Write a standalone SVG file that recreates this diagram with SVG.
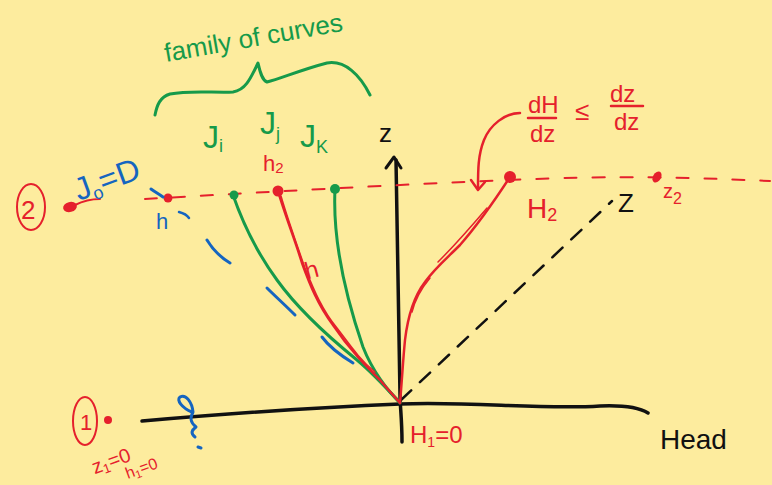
<svg xmlns="http://www.w3.org/2000/svg" width="772" height="485" viewBox="0 0 772 485">
<style>
.s{fill:none;stroke-linecap:round;stroke-linejoin:round}
.r{stroke:#E5202C}
.g{stroke:#169A4A}
.b{stroke:#1565C0}
.k{stroke:#111}
.t{font-family:"Liberation Sans","DejaVu Sans",sans-serif}
.tr{fill:#E5202C}
.tg{fill:#169A4A}
.tb{fill:#1565C0}
.tk{fill:#111}
</style>
<rect width="772" height="485" fill="#FDEC9E"/>
<g id="axes">
<path class="s k" stroke-width="3.5" d="M142,421 C200,416 300,408 400,404 C470,401 540,410 600,406 C625,405 640,408 648,413"/>
<path class="s k" stroke-width="3.5" d="M402,442 C402,420 400,405 400,395 C399,340 398,250 396,160"/>
<path class="s k" stroke-width="3" d="M386,168 L394,157 L401,168"/>
<text class="t tk" x="379" y="142" font-size="26">z</text>
<text class="t tk" x="660" y="449" font-size="28">Head</text>
<path class="s k" stroke-width="2.5" stroke-dasharray="14,12" d="M401,400 L612,201"/>
<text class="t tk" x="618" y="212" font-size="26">Z</text>
</g>
<g id="level2">
<path class="s r" stroke-width="2" stroke-dasharray="12,16" d="M145,199 C250,193 400,184 560,178 C650,176 700,178 770,181"/>
<ellipse class="s r" stroke-width="2" cx="31" cy="207" rx="14" ry="23"/>
<text class="t tr" x="21" y="219" font-size="26">2</text>
<ellipse cx="70" cy="207" rx="7" ry="5" fill="#E5202C" transform="rotate(-15 70 207)"/>
<path class="s r" stroke-width="2" d="M75,205 C85,200 92,199 100,199"/>
<circle cx="168" cy="198" r="4.5" fill="#E5202C"/>
<circle cx="278" cy="191" r="5.5" fill="#E5202C"/>
<circle cx="510" cy="177" r="6" fill="#E5202C"/>
<ellipse cx="657" cy="177" rx="4" ry="6" fill="#E5202C" transform="rotate(30 657 177)"/>
<text class="t tr" x="527" y="218" font-size="28">H<tspan font-size="18" dy="3">2</tspan></text>
<text class="t tr" x="663" y="198" font-size="20">z<tspan font-size="16" dy="6">2</tspan></text>
</g>
<g id="level1">
<ellipse class="s r" stroke-width="2" cx="85" cy="421" rx="12" ry="24"/>
<text class="t tr" x="80" y="430" font-size="22">1</text>
<circle cx="108" cy="420" r="4" fill="#E5202C"/>
<text class="t tr" x="90" y="468" font-size="20" transform="rotate(-20 110 458)">z<tspan font-size="13" dy="3">1</tspan><tspan dy="-3">=0</tspan></text>
<text class="t tr" x="124" y="474" font-size="16" transform="rotate(-20 140 466)">h<tspan font-size="11" dy="3">1</tspan><tspan dy="-3">=0</tspan></text>
<text class="t tr" x="410" y="443" font-size="24">H<tspan font-size="14" dy="4">1</tspan><tspan dy="-4">=0</tspan></text>
</g>
<g id="curves">
<path class="s g" stroke-width="3" d="M233,195 C240,215 255,250 277,280 C295,305 320,330 357,360 C375,375 390,392 400,403"/>
<path class="s g" stroke-width="3" d="M335,189 C333,230 340,280 363,347 C372,370 388,392 400,402"/>
<circle cx="234" cy="195" r="4.5" fill="#169A4A"/>
<circle cx="335" cy="189" r="5" fill="#169A4A"/>
<path class="s r" stroke-width="2.5" d="M278,191 C285,215 295,240 302,263 C310,285 318,305 333,325 C350,350 365,365 380,380 C390,392 396,398 400,403"/>
<path class="s r" stroke-width="1.5" d="M281,196 C288,220 297,245 305,268 C314,290 322,310 337,328 C350,345 360,360 375,372"/>
<text class="t tr" x="305" y="278" font-size="24" transform="rotate(-15 312 270)">h</text>
<path class="s r" stroke-width="2.5" d="M400,403 C402,380 403,360 405,340 C408,315 415,295 425,282 C435,268 445,260 460,245 C475,228 495,200 510,177"/>
<path class="s r" stroke-width="1.5" d="M412,312 C415,300 420,290 430,278 M438,262 C455,245 470,228 487,208"/>
</g>
<g id="blue-marks">
<path class="s b" stroke-width="3" d="M207,240 C213,250 220,257 230,263"/>
<path class="s b" stroke-width="3" d="M267,288 C275,296 285,305 295,315"/>
<path class="s b" stroke-width="3" d="M322,337 C330,348 340,355 353,363"/>
<path class="s b" stroke-width="3" d="M151,189 C155,192 159,194 163,197"/>
<path class="s b" stroke-width="2.5" d="M179,212 C183,213 187,215 189,218"/>
<text class="t tb" x="156" y="229" font-size="22">h</text>
<text class="t tb" x="70" y="192" font-size="32" transform="rotate(-20 100 172)">J<tspan font-size="18" dy="5">o</tspan><tspan dy="-5">=D</tspan></text>
<path class="s b" stroke-width="3" d="M192,412 C182,408 176,400 180,397 C186,394 192,402 193,412 C190,418 190,422 196,427 C192,430 190,433 195,437 M198,447 L201,448"/>
</g>
<g id="family-label">
<text class="t tg" x="166" y="62" font-size="26" transform="rotate(-10 166 62)">family of curves</text>
<path class="s g" stroke-width="3" d="M155,115 C157,105 160,97 170,94 C190,90 215,93 233,92 C245,90 250,80 258,63 C260,72 262,80 267,82 C280,79 300,70 327,63 C345,60 360,75 370,95"/>
<text class="t tg" x="203" y="148" font-size="32">J<tspan font-size="18" dy="4">i</tspan></text>
<text class="t tg" x="260" y="134" font-size="32">J<tspan font-size="18" dy="6">j</tspan></text>
<text class="t tg" x="300" y="147" font-size="32">J<tspan font-size="18" dy="6">K</tspan></text>
<text class="t tr" x="263" y="171" font-size="22">h<tspan font-size="15" dy="2">2</tspan></text>
</g>
<g id="slope-note">
<text class="t tr" x="528" y="113" font-size="24">dH</text>
<path class="s r" stroke-width="2.5" d="M528,118 L556,118"/>
<text class="t tr" x="530" y="142" font-size="24">dz</text>
<text class="t tr" x="575" y="120" font-size="26">≤</text>
<text class="t tr" x="610" y="102" font-size="24">dz</text>
<path class="s r" stroke-width="2.5" d="M611,106 L643,106"/>
<text class="t tr" x="614" y="130" font-size="24">dz</text>
<path class="s r" stroke-width="2.5" d="M520,113 C505,113 490,125 484,140 C478,155 478,170 478,188"/>
<path class="s r" stroke-width="2.5" d="M471,180 L478,190 L485,182"/>
</g>
</svg>
